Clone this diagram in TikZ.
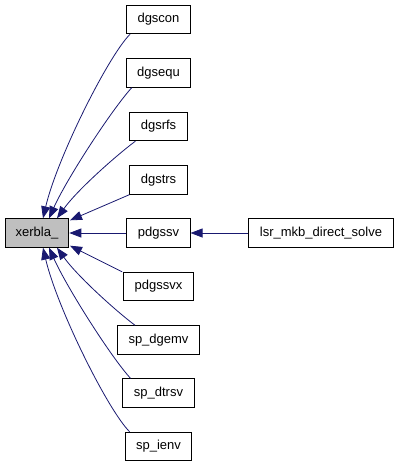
\documentclass[tikz,border=0pt]{standalone}
\usepackage{fontspec}
\setmainfont{Liberation Sans}
\usepackage{tikz}
\usetikzlibrary{arrows.meta, positioning}
\usepackage{xcolor}
\definecolor{edgeBlue}{HTML}{191970}
\definecolor{selGray}{HTML}{BFBFBF}

\begin{document}
\begin{tikzpicture}[
  x=1pt, y=-1pt,
  font=\fontsize{13}{15}\selectfont,
  >={Triangle[length=12pt, width=9pt]},
  fnbox/.style={rectangle, draw=black, line width=0.9pt, fill=white,
                minimum height=28.5pt, inner xsep=11pt, inner ysep=2pt},
  selbox/.style={fnbox, fill=selGray, inner xsep=10.5pt},
  call/.style={->, draw=edgeBlue, line width=0.8pt},
]

% ── Frame ──────────────────────────────────────────────────────────
\useasboundingbox (0,0) rectangle (400,467);

% ── Grid coordinates ───────────────────────────────────────────────
\def\colL{37}       % xerbla_ x
\def\colM{158.5}    % caller column x
\def\colR{321}      % lsr column x

% ── Nodes ──────────────────────────────────────────────────────────
\node[selbox] (xerbla) at (\colL,233) {xerbla\_};

\node[fnbox] (dgscon)  at (\colM,19.5)  {dgscon};
\node[fnbox] (dgsequ)  at (\colM,73)    {dgsequ};
\node[fnbox] (dgsrfs)  at (\colM,126.5) {dgsrfs};
\node[fnbox] (dgstrs)  at (\colM,180)   {dgstrs};
\node[fnbox] (pdgssv)  at (\colM,233)   {pdgssv};
\node[fnbox] (pdgssvx) at (\colM,286.5) {pdgssvx};
\node[fnbox] (spdgemv) at (\colM,340)   {sp\_dgemv};
\node[fnbox] (spdtrsv) at (\colM,393)   {sp\_dtrsv};
\node[fnbox] (spienv)  at (\colM,446.5) {sp\_ienv};

\node[fnbox] (lsr) at (\colR,233) {lsr\_mkb\_direct\_solve};

% ── Calls into xerbla_ (upper fan) ─────────────────────────────────
\draw[call] ([xshift=4pt]dgscon.south west)
  .. controls +(-22,22) and +(14,-60) .. ([xshift=6pt]xerbla.north);
\draw[call] ([xshift=6pt]dgsequ.south west)
  .. controls +(-20,22) and +(18,-40) .. ([xshift=12pt]xerbla.north);
\draw[call] ([xshift=6pt]dgsrfs.south west)
  .. controls +(-20,15) and +(20,-28) .. ([xshift=20pt]xerbla.north);
\draw[call] (dgstrs.south west)
  -- ([xshift=33pt,yshift=-2pt]xerbla.north);

% ── Straight row ───────────────────────────────────────────────────
\draw[call] (pdgssv) -- (xerbla);
\draw[call] (lsr) -- (pdgssv);

% ── Calls into xerbla_ (lower fan) ─────────────────────────────────
\draw[call] ([xshift=-1pt]pdgssvx.north west)
  -- ([xshift=33pt,yshift=2pt]xerbla.south);
\draw[call] ([xshift=18pt]spdgemv.north west)
  .. controls +(-20,-15) and +(20,28) .. ([xshift=20pt]xerbla.south);
\draw[call] ([xshift=8pt]spdtrsv.north west)
  .. controls +(-20,-22) and +(18,40) .. ([xshift=12pt]xerbla.south);
\draw[call] ([xshift=5pt]spienv.north west)
  .. controls +(-22,-22) and +(14,60) .. ([xshift=6pt]xerbla.south);

\end{tikzpicture}
\end{document}
